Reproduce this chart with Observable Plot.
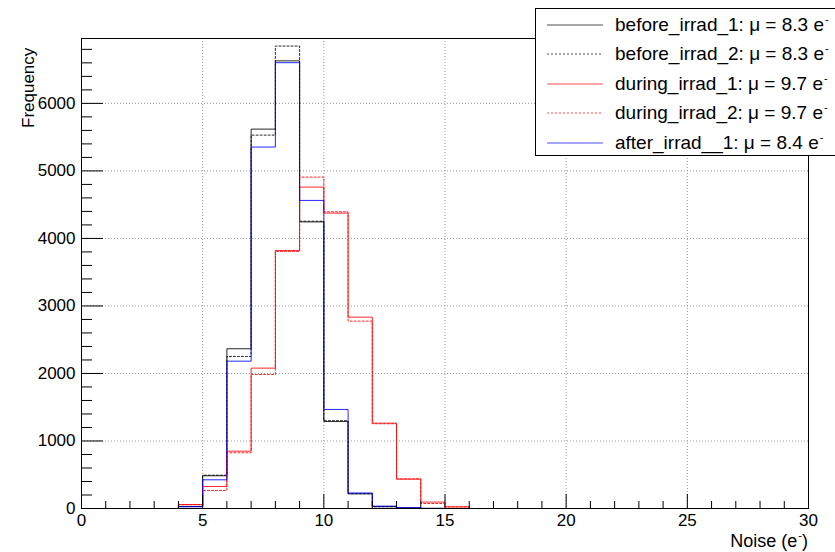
<!DOCTYPE html>
<html><head><meta charset="utf-8">
<script src="https://cdn.jsdelivr.net/npm/d3@7"></script>
<script src="https://cdn.jsdelivr.net/npm/@observablehq/plot@0.6"></script>
<style>
body{margin:0;background:#fff;font-family:"Liberation Sans",Arial,Helvetica,sans-serif}
#wrap{position:relative;width:835px;height:552px;overflow:hidden}
#legend{position:absolute;left:535px;top:8px;width:330px;height:148px;border:1px solid #000;background:#fff;box-sizing:border-box}
.row{position:absolute;left:0;height:29px;width:330px;font-size:19px;line-height:29px;color:#000;white-space:nowrap}
.row svg{position:absolute;left:11px;top:14px}
.row span{position:absolute;left:79px;top:0}
sup{font-size:11px;vertical-align:0;position:relative;top:-8px;margin-left:1px}
#xt{position:absolute;right:27px;top:531px;font-size:18px;white-space:nowrap}
#yt{position:absolute;left:30px;top:38px;font-size:17px;white-space:nowrap;transform-origin:0 0;transform:translate(-11px,90px) rotate(-90deg)}
svg.plot text{font-size:17px}
</style></head>
<body><div id="wrap"></div>
<script>
// bin lower edges (bin width 1), 0..29, plus upper edge 30
const binEdges = [0,1,2,3,4,5,6,7,8,9,10,11,12,13,14,15,16,17,18,19,20,21,22,23,24,25,26,27,28,29,30];
const seriesNames = ["before_irrad_1","before_irrad_2","during_irrad_1","during_irrad_2","after_irrad__1"];
const seriesMeans = ["8.3","8.3","9.7","9.7","8.4"];
const seriesColors = ["#000000","#000000","#ff0000","#ff0000","#0000ff"];
const seriesDash = ["none","2,2","none","2,2","none"];
const beforeIrrad1 = [0,0,0,0,30,485,2366,5619,6630,4245,1289,217,28,8,1,0,0,0,0,0,0,0,0,0,0,0,0,0,0,0];
const beforeIrrad2 = [0,0,0,0,30,493,2252,5530,6849,4255,1300,220,25,8,1,0,0,0,0,0,0,0,0,0,0,0,0,0,0,0];
const duringIrrad1 = [0,0,0,0,59,326,849,2079,3822,4760,4375,2834,1264,434,95,25,0,0,0,0,0,0,0,0,0,0,0,0,0,0];
const duringIrrad2 = [0,0,0,0,55,267,825,1985,3807,4908,4395,2775,1255,440,74,22,0,0,0,0,0,0,0,0,0,0,0,0,0,0];
const afterIrrad1  = [0,0,0,0,25,425,2182,5353,6603,4563,1467,230,35,12,2,0,0,0,0,0,0,0,0,0,0,0,0,0,0,0];
const seriesValues = [beforeIrrad1, beforeIrrad2, duringIrrad1, duringIrrad2, afterIrrad1];
const xMajorTicks = [0,5,10,15,20,25,30];
const yMajorTicks = [0,1000,2000,3000,4000,5000,6000];
const yMax = 6961;

const W = 835, H = 552, mL = 81, mR = 27, mT = 38, mB = 44;
const fw = W - mL - mR, fh = H - mT - mB;

const xMinor = binEdges.filter(v => !xMajorTicks.includes(v));
const yMinor = d3.range(200, yMax, 200).filter(v => v % 1000 !== 0);

const steps = seriesValues.map(vals =>
  binEdges.map((e, i) => ({x: e, y: vals[Math.min(i, vals.length - 1)]})));

const gridStyle = {stroke: "#999", strokeDasharray: "1,2", strokeWidth: 1, strokeOpacity: 1};

const plot = Plot.plot({
  width: W, height: H,
  marginLeft: mL, marginRight: mR, marginTop: mT, marginBottom: mB,
  style: {fontFamily: "'Liberation Sans', Arial, sans-serif", background: "#fff", fontSize: "17px"},
  x: {domain: [0, 30]},
  y: {domain: [0, yMax]},
  marks: [
    Plot.ruleX(xMajorTicks.slice(1, -1), gridStyle),
    Plot.ruleY(yMajorTicks.slice(1), gridStyle),
    ...steps.map((pts, k) => Plot.line(pts, {
      x: "x", y: "y", curve: "step-after",
      stroke: seriesColors[k], strokeWidth: 1, strokeOpacity: 0.85,
      strokeDasharray: seriesDash[k] === "none" ? null : seriesDash[k]
    })),
    Plot.tickX(xMajorTicks, {x: d => d, stroke: "#000", insetTop: fh - 14}),
    Plot.tickX(xMinor, {x: d => d, stroke: "#000", insetTop: fh - 7}),
    Plot.tickY(yMajorTicks, {y: d => d, stroke: "#000", insetRight: fw - 22}),
    Plot.tickY(yMinor, {y: d => d, stroke: "#000", insetRight: fw - 11}),
    Plot.axisX(xMajorTicks, {tickSize: 0, tickPadding: 5, fontSize: 17, label: null, tickFormat: d => String(d)}),
    Plot.axisY(yMajorTicks, {tickSize: 0, tickPadding: 6, fontSize: 17, label: null, tickFormat: d => String(d)}),
    Plot.frame({stroke: "#000", strokeWidth: 1})
  ]
});
const wrap = document.getElementById("wrap");
wrap.appendChild(plot);

const xt = document.createElement("div");
xt.id = "xt"; xt.innerHTML = "Noise (e<sup>-</sup>)";
wrap.appendChild(xt);
const yt = document.createElement("div");
yt.id = "yt"; yt.textContent = "Frequency";
wrap.appendChild(yt);

const leg = document.createElement("div");
leg.id = "legend";
seriesNames.forEach((n, k) => {
  const r = document.createElement("div");
  r.className = "row";
  r.style.top = (1 + k * 29.4) + "px";
  r.innerHTML = `<svg width="57" height="2"><line x1="0" x2="56" y1="1" y2="1" stroke="${seriesColors[k]}" stroke-opacity="0.7" stroke-width="1" ${seriesDash[k] === "none" ? "" : `stroke-dasharray="${seriesDash[k]}"`}/></svg><span>${n}: \u03bc = ${seriesMeans[k]} e<sup>-</sup></span>`;
  leg.appendChild(r);
});
wrap.appendChild(leg);
</script>
</body></html>
